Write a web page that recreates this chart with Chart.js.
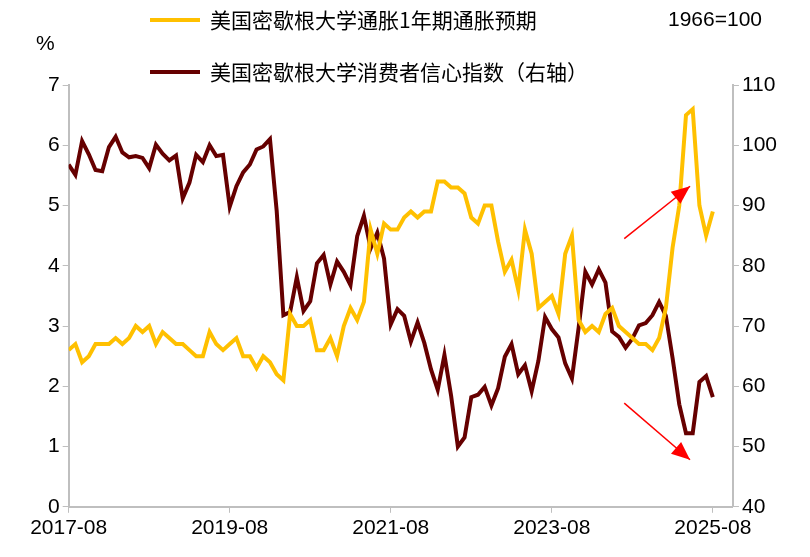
<!DOCTYPE html>
<html>
<head>
<meta charset="utf-8">
<script src="https://cdn.jsdelivr.net/npm/chart.js@4.4.0/dist/chart.umd.min.js"></script>
<style>
  body { margin: 0; background: #fff; }
  #wrap { width: 810px; height: 557px; }
</style>
</head>
<body>
<div id="wrap"><canvas id="c" width="810" height="557"></canvas></div>
<script>
// 月度数据 2017-08 至 2025-08
const tickLabels = ['2017-08', '2019-08', '2021-08', '2023-08', '2025-08'];

const inflationExp = [
  2.6, 2.7, 2.4, 2.5, 2.7,
  2.7, 2.7, 2.8, 2.7, 2.8, 3.0, 2.9, 3.0, 2.7, 2.9, 2.8, 2.7,
  2.7, 2.6, 2.5, 2.5, 2.9, 2.7, 2.6, 2.7, 2.8, 2.5, 2.5, 2.3,
  2.5, 2.4, 2.2, 2.1, 3.2, 3.0, 3.0, 3.1, 2.6, 2.6, 2.8, 2.5,
  3.0, 3.3, 3.1, 3.4, 4.6, 4.2, 4.7, 4.6, 4.6, 4.8, 4.9, 4.8,
  4.9, 4.9, 5.4, 5.4, 5.3, 5.3, 5.2, 4.8, 4.7, 5.0, 5.0, 4.4,
  3.9, 4.1, 3.6, 4.6, 4.2, 3.3, 3.4, 3.5, 3.2, 4.2, 4.5, 3.1,
  2.9, 3.0, 2.9, 3.2, 3.3, 3.0, 2.9, 2.8, 2.7, 2.7, 2.6, 2.8,
  3.3, 4.3, 5.0, 6.5, 6.6, 5.0, 4.5, 4.9
];

const sentiment = [
  96.8, 95.1, 100.7, 98.5, 95.9,
  95.7, 99.7, 101.4, 98.8, 98.0, 98.2, 97.9, 96.2, 100.1, 98.6, 97.5, 98.3,
  91.2, 93.8, 98.4, 97.2, 100.0, 98.2, 98.4, 89.8, 93.2, 95.5, 96.8, 99.3,
  99.8, 101.0, 89.1, 71.8, 72.3, 78.1, 72.5, 74.1, 80.4, 81.8, 76.9, 80.7,
  79.0, 76.8, 84.9, 88.3, 82.9, 85.5, 81.2, 70.3, 72.8, 71.7, 67.4, 70.6,
  67.2, 62.8, 59.4, 65.2, 58.4, 50.0, 51.5, 58.2, 58.6, 59.9, 56.8, 59.7,
  64.9, 67.0, 62.0, 63.5, 59.2, 64.2, 71.5, 69.5, 68.1, 63.8, 61.3, 69.7,
  79.0, 76.9, 79.4, 77.2, 69.1, 68.2, 66.4, 67.9, 70.1, 70.5, 71.8, 74.0,
  71.7, 64.7, 57.0, 52.2, 52.2, 60.7, 61.7, 58.2
];

const seriesNames = ['美国密歇根大学通胀1年期通胀预期', '美国密歇根大学消费者信心指数（右轴）'];
const seriesColors = ['#FFC000', '#660000'];

// 箭头（索引, 右轴数值）
const arrows = [
  { from: [82.8, 84.5], to: [92.6, 93.2] },
  { from: [82.8, 57.2], to: [92.6, 47.8] }
];

const FONT = '"Liberation Sans", Arial, sans-serif';

const decorPlugin = {
  id: 'decor',
  afterDraw(chart) {
    const ctx = chart.ctx;
    const x = chart.scales.x, yr = chart.scales.y1;
    ctx.save();
    // 图例
    ctx.font = '21px "Noto Sans CJK SC", sans-serif';
    ctx.textBaseline = 'middle';
    seriesNames.forEach((name, i) => {
      const yy = 20 + i * 52;
      ctx.strokeStyle = seriesColors[i];
      ctx.lineWidth = 4;
      ctx.beginPath(); ctx.moveTo(150, yy); ctx.lineTo(200, yy); ctx.stroke();
      ctx.fillStyle = '#000';
      ctx.fillText(name, 210, yy);
    });
    ctx.font = '21px ' + FONT;
    ctx.fillText('1966=100', 668, 20);
    ctx.fillText('%', 36, 44);
    // 红色箭头
    ctx.strokeStyle = '#FF0000';
    ctx.fillStyle = '#FF0000';
    ctx.lineWidth = 1.5;
    arrows.forEach(a => {
      const x1 = x.getPixelForValue(a.from[0]), y1 = yr.getPixelForValue(a.from[1]);
      const x2 = x.getPixelForValue(a.to[0]), y2 = yr.getPixelForValue(a.to[1]);
      const ang = Math.atan2(y2 - y1, x2 - x1);
      ctx.beginPath(); ctx.moveTo(x1, y1); ctx.lineTo(x2, y2); ctx.stroke();
      ctx.beginPath();
      ctx.moveTo(x2, y2);
      ctx.lineTo(x2 - 20 * Math.cos(ang - 0.4), y2 - 20 * Math.sin(ang - 0.4));
      ctx.lineTo(x2 - 20 * Math.cos(ang + 0.4), y2 - 20 * Math.sin(ang + 0.4));
      ctx.closePath(); ctx.fill();
    });
    ctx.restore();
  }
};

const axisStyle = {
  grid: { drawOnChartArea: false, color: '#BFBFBF', tickLength: 6 },
  border: { color: '#BFBFBF', width: 2 }
};

new Chart(document.getElementById('c'), {
  type: 'line',
  data: {
    datasets: [
      {
        label: seriesNames[0],
        data: inflationExp.map((v, i) => ({ x: i, y: v })),
        borderColor: seriesColors[0], borderWidth: 4, pointRadius: 0,
        tension: 0, yAxisID: 'y'
      },
      {
        label: seriesNames[1],
        data: sentiment.map((v, i) => ({ x: i, y: v })),
        borderColor: seriesColors[1], borderWidth: 4, pointRadius: 0,
        tension: 0, yAxisID: 'y1'
      }
    ]
  },
  options: {
    responsive: false,
    animation: false,
    layout: { padding: { top: 85, right: 30, left: 45, bottom: 13 } },
    plugins: { legend: { display: false }, tooltip: { enabled: false } },
    scales: {
      x: {
        type: 'linear', min: 0, max: 99,
        ...axisStyle,
        ticks: {
          stepSize: 24, maxRotation: 0, autoSkip: false,
          color: '#000', font: { family: FONT, size: 21 },
          callback: v => tickLabels[v / 24] || ''
        },
        afterBuildTicks: axis => { axis.ticks = [0, 24, 48, 72, 96].map(v => ({ value: v })); }
      },
      y: {
        position: 'left', min: 0, max: 7,
        ...axisStyle,
        ticks: { stepSize: 1, color: '#000', font: { family: FONT, size: 21 } }
      },
      y1: {
        position: 'right', min: 40, max: 110,
        ...axisStyle,
        ticks: { stepSize: 10, color: '#000', font: { family: FONT, size: 21 } }
      }
    }
  },
  plugins: [decorPlugin]
});
</script>
</body>
</html>
